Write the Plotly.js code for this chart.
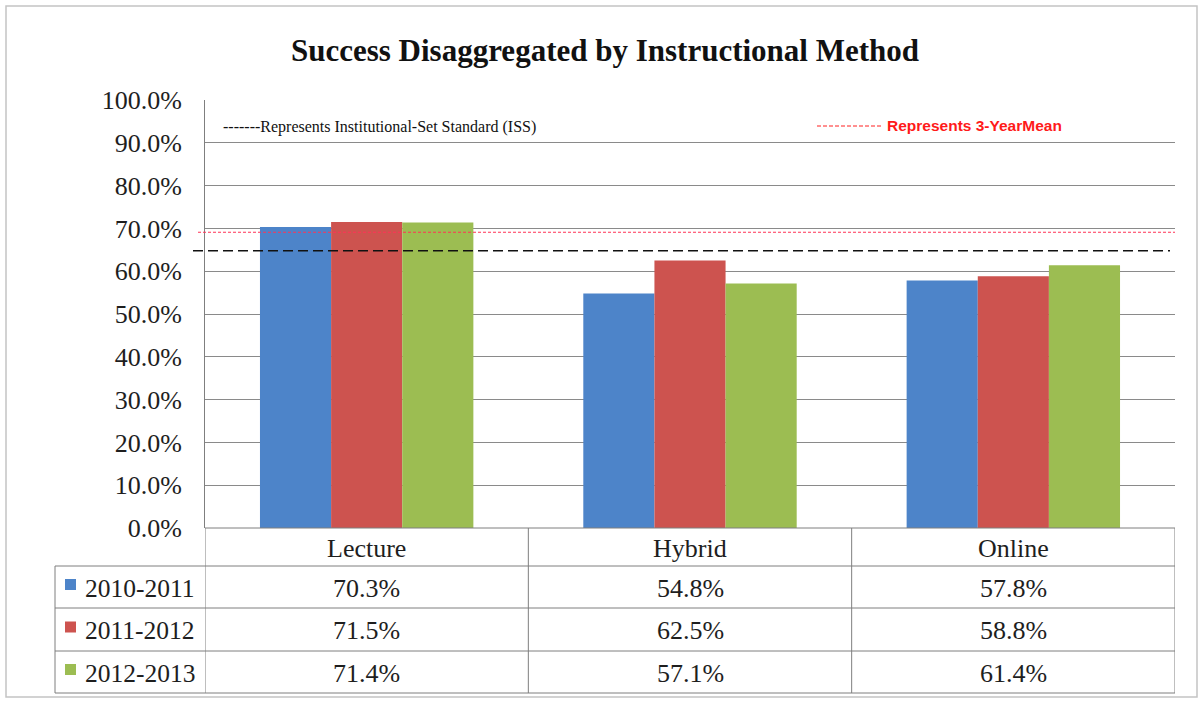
<!DOCTYPE html>
<html>
<head>
<meta charset="utf-8">
<script src="https://cdn.plot.ly/plotly-3.0.1.min.js"></script>
<style>html,body{margin:0;padding:0;background:#fff;}#chart{width:1204px;height:701px;}</style>
</head>
<body>
<div id="chart"></div>
<script>
// ---- data ----
const categories = ['Lecture', 'Hybrid', 'Online'];
const seriesNames = ['2010-2011', '2011-2012', '2012-2013'];
const values2010 = [70.3, 54.8, 57.8];
const values2011 = [71.5, 62.5, 58.8];
const values2012 = [71.4, 57.1, 61.4];
const issValue = 64.8;      // Institutional-Set Standard (dashed black)
const meanValue = 69.1;     // 3-year mean (dashed red)
const titleText = 'Success Disaggregated by Instructional Method';
const issLabel = '-------Represents Institutional-Set Standard (ISS)';
const meanLabel = 'Represents 3-YearMean';

// ---- layout geometry ----
const W = 1204, H = 701;
const L = 205, R = 1175, T = 100, B = 528;
const pw = R - L, ph = B - T;
const px = x => (x - L) / pw;           // pixel x -> paper
const py = y => (B - y) / ph;           // pixel y -> paper
const serif = 'Liberation Serif, serif';
const colors = ['#4d84c9', '#cd534f', '#9cbd52'];
const seriesValues = [values2010, values2011, values2012];
const gridCol = '#8a8a8a';
const tableCol = '#7f7f7f';
const txtCol = '#1e1e1e';

const traces = seriesValues.map((vals, i) => ({
  type: 'bar', x: categories, y: vals, name: seriesNames[i],
  marker: {color: colors[i], line: {width: 0}},
  hoverinfo: 'x+y+name'
}));

const shapes = [];
const annotations = [];

// outer chart border
shapes.push({type: 'rect', xref: 'paper', yref: 'paper', x0: px(6), x1: px(1197), y0: py(697), y1: py(6),
  line: {color: '#c4c4c4', width: 1.5}, layer: 'below'});

// reference lines
shapes.push({type: 'line', xref: 'paper', yref: 'y', x0: px(198), x1: px(1175), y0: meanValue, y1: meanValue,
  line: {color: '#ff3355', width: 1, dash: '3px,2px'}});
shapes.push({type: 'line', xref: 'paper', yref: 'y', x0: px(193), x1: px(1170), y0: issValue, y1: issValue,
  line: {color: '#111', width: 1.5, dash: '10px,5px'}});

// legend-text dashes for the mean label
shapes.push({type: 'line', xref: 'paper', yref: 'paper', x0: px(817), x1: px(881), y0: py(126), y1: py(126),
  line: {color: '#ff2020', width: 1, dash: '4px,2px'}});

// ---- data table below the plot ----
const rowEdges = [528, 566, 608, 651, 693];
shapes.push({type: 'line', xref: 'paper', yref: 'paper', x0: 0, x1: 1, y0: py(rowEdges[0]), y1: py(rowEdges[0]),
  line: {color: tableCol, width: 1}});
for (let k = 0; k <= categories.length; k++) {
  shapes.push({type: 'line', xref: 'x', yref: 'paper', x0: k - 0.5, x1: k - 0.5,
    y0: py(rowEdges[0]), y1: py(rowEdges[rowEdges.length - 1]), line: {color: tableCol, width: 1}});
}
for (let r = 1; r < rowEdges.length; r++) {
  shapes.push({type: 'line', xref: 'paper', yref: 'paper', x0: px(55), x1: 1, y0: py(rowEdges[r]), y1: py(rowEdges[r]),
    line: {color: tableCol, width: 1}});
}
shapes.push({type: 'line', xref: 'paper', yref: 'paper', x0: px(55), x1: px(55), y0: py(rowEdges[1]), y1: py(rowEdges[4]),
  line: {color: tableCol, width: 1}});

// category headers
categories.forEach(c => {
  annotations.push({xref: 'x', yref: 'paper', x: c, y: py((rowEdges[0] + rowEdges[1]) / 2 + 1),
    text: c, showarrow: false, font: {family: serif, size: 26, color: txtCol}, yanchor: 'middle'});
});
// data rows
seriesValues.forEach((vals, i) => {
  const yc = (rowEdges[i + 1] + rowEdges[i + 2]) / 2 + 1;
  shapes.push({type: 'rect', xref: 'paper', yref: 'paper', x0: px(65), x1: px(76),
    y0: py(yc + 2), y1: py(yc - 9), fillcolor: colors[i], line: {width: 0}});
  annotations.push({xref: 'paper', yref: 'paper', x: px(83), y: py(yc), xanchor: 'left', yanchor: 'middle',
    text: seriesNames[i], showarrow: false, font: {family: serif, size: 25.5, color: txtCol}});
  vals.forEach((v, j) => {
    annotations.push({xref: 'x', yref: 'paper', x: categories[j], y: py(yc), yanchor: 'middle',
      text: v.toFixed(1) + '%', showarrow: false, font: {family: serif, size: 26, color: txtCol}});
  });
});

// in-plot labels
annotations.push({xref: 'paper', yref: 'paper', x: px(221), y: py(127), xanchor: 'left', yanchor: 'middle',
  text: issLabel, showarrow: false, font: {family: serif, size: 16, color: '#111'}});
annotations.push({xref: 'paper', yref: 'paper', x: px(885), y: py(126), xanchor: 'left', yanchor: 'middle',
  text: '<b>' + meanLabel + '</b>', showarrow: false,
  font: {family: 'Liberation Sans Narrow, Arial Narrow, Liberation Sans, sans-serif', size: 15.5, color: '#ff1a1a'}});

const layout = {
  width: W, height: H, autosize: false,
  margin: {l: L, r: W - R, t: T, b: H - B, pad: 0},
  paper_bgcolor: '#fff', plot_bgcolor: '#fff',
  showlegend: false,
  barmode: 'group', bargap: 0.34, bargroupgap: 0,
  title: {text: '<b>' + titleText + '</b>', x: 605 / W, xanchor: 'center', y: 1 - 50 / H, yanchor: 'middle',
    font: {family: serif, size: 31, color: '#111'}},
  xaxis: {type: 'category', range: [-0.5, 2.5], showticklabels: false, showgrid: false, zeroline: false,
    showline: false, ticks: '', fixedrange: true},
  yaxis: {range: [0, 100], dtick: 10, tick0: 0, tickformat: '.1f', ticksuffix: '%',
    showgrid: true, gridcolor: gridCol, gridwidth: 1, zeroline: false,
    showline: true, linecolor: tableCol, linewidth: 1, ticks: '', ticklabelstandoff: 17,
    tickfont: {family: serif, size: 26, color: txtCol}, fixedrange: true},
  shapes: shapes,
  annotations: annotations
};

Plotly.newPlot('chart', traces, layout, {displayModeBar: false, staticPlot: true});
</script>
</body>
</html>
